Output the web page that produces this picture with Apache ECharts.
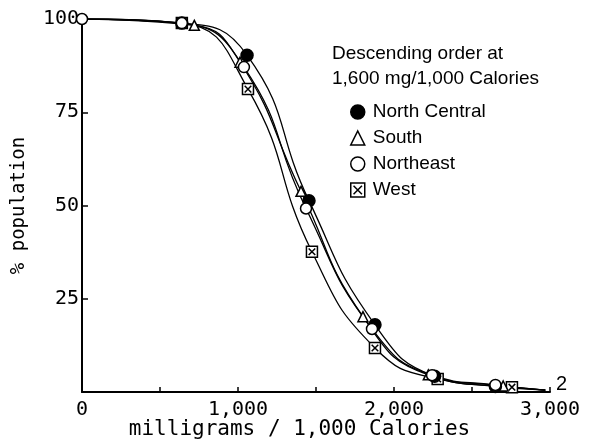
<!DOCTYPE html>
<html>
<head>
<meta charset="utf-8">
<script src="https://cdn.jsdelivr.net/npm/echarts@6/dist/echarts.min.js"></script>
<style>
  html, body { margin: 0; padding: 0; background: #fff; }
  #chart { width: 599px; height: 447px; }
</style>
</head>
<body>
<div id="chart"></div>
<script>
// values (x = mg / 1,000 Calories, y = % population)
var northCentralX = [0, 640, 1058, 1455, 1878, 2260, 2650, 2970];
var northCentralY = [100, 98.9, 90.3, 51.3, 18.0, 4.2, 1.5, 0.5];
var southX = [0, 720, 1013, 1404, 1801, 2220, 2700, 2970];
var southY = [100, 98.3, 88.4, 53.8, 20.2, 4.6, 1.6, 0.5];
var northeastX = [0, 640, 1038, 1436, 1859, 2244, 2650, 2970];
var northeastY = [100, 98.9, 87.1, 49.2, 16.9, 4.5, 1.9, 0.5];
var westX = [0, 640, 1064, 1474, 1878, 2280, 2756, 2970];
var westY = [100, 98.9, 81.2, 37.6, 11.8, 3.5, 1.3, 0.5];

var xTicks = [0, 1000, 2000, 3000];
var yTicks = [25, 50, 75, 100];
var legendTitle = 'Descending order at\n1,600 mg/1,000 Calories';
var endLabel = '2';

var plotFont = '"DejaVu Sans Mono", monospace';
var textFont = '"Liberation Sans", Arial, sans-serif';
var westIcon = 'path://M0,0L10,0L10,10L0,10Z M2,2L8,8 M8,2L2,8';

function pairs(xs, ys, showFirst) {
    return xs.map(function (x, i) {
        var item = {value: [x, ys[i]]};
        if ((i === 0 && !showFirst) || i === xs.length - 1) {
            item.symbol = 'none';
        }
        return item;
    });
}

function makeSeries(name, xs, ys, symbol, filled, size, showFirst) {
    return {
        name: name,
        type: 'line',
        smooth: 0.5,
        data: pairs(xs, ys, showFirst),
        symbol: symbol,
        symbolSize: size,
        showAllSymbol: true,
        lineStyle: {color: '#000', width: 1.3},
        itemStyle: {color: filled ? '#000' : '#fff', borderColor: '#000', borderWidth: 1.5},
        emphasis: {disabled: true},
        animation: false
    };
}

var chart = echarts.init(document.getElementById('chart'), null, {renderer: 'canvas'});

chart.setOption({
    backgroundColor: '#fff',
    grid: {left: 82, top: 19, right: 49, bottom: 55},
    title: {
        text: legendTitle,
        left: 327,
        top: 36,
        textStyle: {fontFamily: textFont, fontSize: 19, fontWeight: 'normal', color: '#000', lineHeight: 25}
    },
    legend: {
        orient: 'vertical',
        left: 345,
        top: 97,
        itemWidth: 14,
        itemHeight: 14,
        itemGap: 6,
        selectedMode: false,
        textStyle: {fontFamily: textFont, fontSize: 19, color: '#000', lineHeight: 20, padding: [0, 0, 0, 3]},
        data: [
            {name: 'North Central', icon: 'circle', itemStyle: {color: '#000', borderColor: '#000', borderWidth: 1.5}},
            {name: 'South', icon: 'triangle', itemStyle: {color: '#fff', borderColor: '#000', borderWidth: 1.5}},
            {name: 'Northeast', icon: 'circle', itemStyle: {color: '#fff', borderColor: '#000', borderWidth: 1.5}},
            {name: 'West', icon: westIcon, itemStyle: {color: '#fff', borderColor: '#000', borderWidth: 1.5}}
        ]
    },
    xAxis: {
        type: 'value',
        min: 0,
        max: 3000,
        interval: 500,
        axisLine: {lineStyle: {color: '#000', width: 2}},
        axisTick: {inside: true, length: 5, lineStyle: {color: '#000', width: 1.5}},
        splitLine: {show: false},
        axisLabel: {
            color: '#000',
            fontFamily: plotFont,
            fontSize: 20,
            margin: 8,
            formatter: function (v) {
                return xTicks.indexOf(v) >= 0 ? echarts.format.addCommas(v) : '';
            }
        }
    },
    yAxis: {
        type: 'value',
        min: 0,
        max: 100,
        interval: 25,
        name: '% population',
        nameLocation: 'middle',
        nameGap: 53,
        nameRotate: 90,
        nameTextStyle: {color: '#000', fontFamily: plotFont, fontSize: 19},
        axisLine: {show: true, lineStyle: {color: '#000', width: 2}},
        axisTick: {show: true, inside: true, length: 6, lineStyle: {color: '#000', width: 1.5}},
        splitLine: {show: false},
        axisLabel: {
            color: '#000',
            fontFamily: plotFont,
            fontSize: 20,
            margin: 3,
            formatter: function (v) {
                return yTicks.indexOf(v) >= 0 ? String(v) : '';
            }
        }
    },
    graphic: [
        {
            type: 'text',
            left: 'center',
            top: 419,
            x: 22,
            style: {text: 'milligrams / 1,000 Calories', fill: '#000', font: '21px ' + plotFont}
        },
        {
            type: 'text',
            left: 556,
            top: 374,
            style: {text: endLabel, fill: '#000', font: '20px ' + textFont}
        }
    ],
    series: [
        makeSeries('West', westX, westY, westIcon, false, 11, false),
        makeSeries('South', southX, southY, 'triangle', false, 10, false),
        makeSeries('North Central', northCentralX, northCentralY, 'circle', true, 12, false),
        makeSeries('Northeast', northeastX, northeastY, 'circle', false, 11, true)
    ]
});
</script>
</body>
</html>
